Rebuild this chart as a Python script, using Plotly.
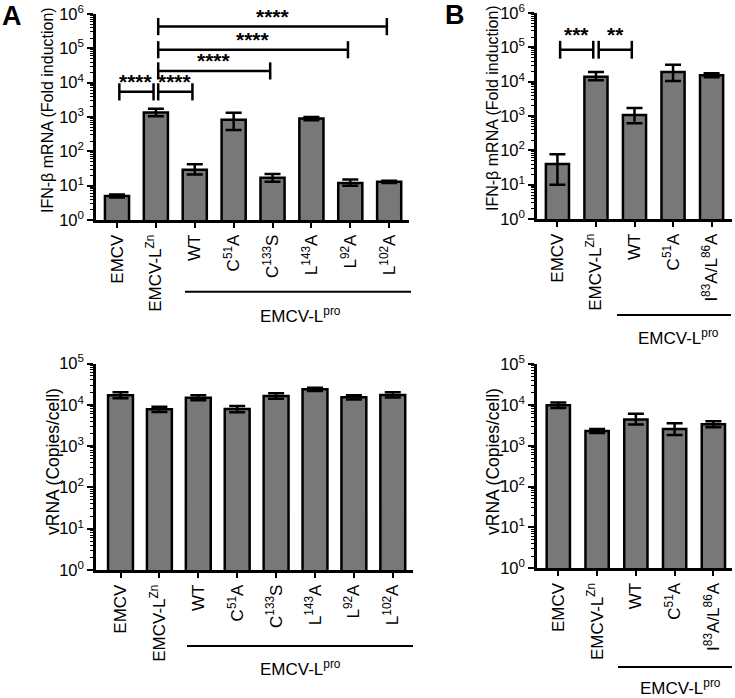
import math
import plotly.graph_objects as go

# ---------------- data ----------------
cats_A = ["EMCV", "EMCV-L<sup>Zn</sup>", "WT", "C<sup>51</sup>A", "C<sup>133</sup>S",
          "L<sup>143</sup>A", "L<sup>92</sup>A", "L<sup>102</sup>A"]
cats_B = ["EMCV", "EMCV-L<sup>Zn</sup>", "WT", "C<sup>51</sup>A", "I<sup>83</sup>A/L<sup>86</sup>A"]

ifn_A = [5.0, 1350, 29, 830, 17, 900, 12, 13]
ifn_A_hi = [5.5, 1750, 42, 1320, 22, 1000, 15, 14]
ifn_A_lo = [4.5, 1050, 21, 420, 13, 800, 10, 12]

ifn_B = [40, 14000, 1070, 19000, 15500]
ifn_B_hi = [77, 19000, 1700, 31000, 17500]
ifn_B_lo = [10, 11000, 620, 10500, 13500]

vrna_A = [17000, 7800, 14800, 7900, 16300, 23700, 15200, 17300]
vrna_A_hi = [20000, 9000, 17000, 9400, 19000, 26000, 17000, 20000]
vrna_A_lo = [14500, 6700, 12800, 6600, 14000, 21500, 13500, 15000]

vrna_B = [9800, 2280, 4370, 2550, 3370]
vrna_B_hi = [11500, 2550, 6100, 3560, 3980]
vrna_B_lo = [8400, 2050, 3300, 1820, 2850]

# significance brackets: from category index, to category index, height, label
sig_A_from = [0, 1, 1, 1, 1]
sig_A_to = [1, 2, 4, 6, 7]
sig_A_height = [5400, 5400, 22000, 91000, 430000]
sig_A_label = ["****", "****", "****", "****", "****"]

sig_B_from = [0, 1]
sig_B_to = [1, 2]
sig_B_height = [85000, 85000]
sig_B_label = ["***", "**"]

ifn_title = "IFN-β mRNA (Fold induction)"
vrna_title = "vRNA (Copies/cell)"
group_label = "EMCV-L<sup>pro</sup>"

# ---------------- style ----------------
W, H = 735, 698
FONT = "Arial, 'Liberation Sans', sans-serif"
BAR = "#787878"
LW = 2.5


def px(x):
    return x / W


def py(y):
    return 1 - y / H


fig = go.Figure()


def add_bars(suffix, cats, vals, hi, lo, width):
    fig.add_trace(go.Bar(
        x=cats, y=vals, xaxis="x" + suffix, yaxis="y" + suffix, width=width,
        marker=dict(color=BAR, line=dict(color="black", width=LW)),
        error_y=dict(type="data", symmetric=False,
                     array=[h - v for h, v in zip(hi, vals)],
                     arrayminus=[v - l for v, l in zip(vals, lo)],
                     color="black", thickness=2.5, width=8),
        showlegend=False, hoverinfo="skip"))


add_bars("", cats_A, ifn_A, ifn_A_hi, ifn_A_lo, 0.62)
add_bars("2", cats_B, ifn_B, ifn_B_hi, ifn_B_lo, 0.6)
add_bars("3", cats_A, vrna_A, vrna_A_hi, vrna_A_lo, 0.64)
add_bars("4", cats_B, vrna_B, vrna_B_hi, vrna_B_lo, 0.6)


def xaxis(domain, anchor, rng, cats):
    return dict(domain=domain, anchor=anchor, type="category", range=rng,
                categoryorder="array", categoryarray=cats, automargin=False,
                showline=True, linewidth=LW, linecolor="black", mirror=False,
                ticks="outside", ticklen=5, tickwidth=2, tickcolor="black",
                tickangle=-90, tickfont=dict(size=17, color="black", family=FONT),
                showgrid=False, zeroline=False, fixedrange=True)


def yaxis(domain, anchor, decades):
    return dict(domain=domain, anchor=anchor, type="log", range=[0, decades],
                automargin=False,
                tickmode="array", tickvals=[10 ** k for k in range(decades + 1)],
                ticktext=["10<sup>%d</sup>" % k for k in range(decades + 1)],
                showline=True, linewidth=LW, linecolor="black",
                ticks="outside", ticklen=6, tickwidth=2, tickcolor="black",
                tickfont=dict(size=16.5, color="black", family=FONT),
                minor=dict(ticks="outside", ticklen=3, tickwidth=1, tickcolor="black",
                           tickmode="array",
                           tickvals=[m * 10 ** k for k in range(decades) for m in range(2, 10)]),
                showgrid=False, zeroline=False, fixedrange=True)


fig.update_layout(
    width=W, height=H, margin=dict(l=0, r=0, t=0, b=0, autoexpand=False),
    paper_bgcolor="white", plot_bgcolor="white",
    font=dict(family=FONT, color="black", size=16),
    xaxis=xaxis([px(96), px(409)], "y", [-0.54, 7.51], cats_A),
    yaxis=yaxis([py(220), py(14)], "x", 6),
    xaxis2=xaxis([px(537), px(732)], "y2", [-0.53, 4.53], cats_B),
    yaxis2=yaxis([py(219), py(13)], "x2", 6),
    xaxis3=xaxis([px(96), px(413)], "y3", [-0.63, 7.52], cats_A),
    yaxis3=yaxis([py(570), py(363.5)], "x3", 5),
    xaxis4=xaxis([px(537), px(732)], "y4", [-0.55, 4.48], cats_B),
    yaxis4=yaxis([py(568.3), py(364)], "x4", 5),
)

shapes = []
annotations = []


def brackets(xref, yref, frm, to, heights, labels, gap, half, starshift):
    f = 10 ** half
    for a, b, h, lab in zip(frm, to, heights, labels):
        x0, x1 = a + gap, b - gap
        line = dict(color="black", width=2.5)
        shapes.append(dict(type="line", xref=xref, yref=yref, x0=x0, x1=x1, y0=h, y1=h, line=line))
        for xe in (x0, x1):
            shapes.append(dict(type="line", xref=xref, yref=yref, x0=xe, x1=xe,
                               y0=h / f, y1=h * f, line=line))
        annotations.append(dict(xref=xref, yref=yref, x=(x0 + x1) / 2, y=math.log10(h), text=lab,
                                showarrow=False, yanchor="bottom", yshift=starshift,
                                font=dict(size=21, color="black", family=FONT, weight="bold")))


brackets("x", "y", sig_A_from, sig_A_to, sig_A_height, sig_A_label, 0.06, 0.25, -3)
brackets("x2", "y2", sig_B_from, sig_B_to, sig_B_height, sig_B_label, 0.07, 0.26, 2)

# axis titles
for x, y, t, s in [(47, 110, ifn_title, 16), (492, 108, ifn_title, 16),
                   (53, 462, vrna_title, 17.5), (493, 462, vrna_title, 17.5)]:
    annotations.append(dict(xref="paper", yref="paper", x=px(x), y=py(y), text=t,
                            textangle=-90, showarrow=False, xanchor="center", yanchor="middle",
                            font=dict(size=s, color="black", family=FONT)))

# group lines + labels
for x0, x1, yl, xt, yt in [(185, 411, 291.7, 300, 315), (617, 731, 315, 678, 337),
                           (187, 413, 646, 300, 668), (618, 732, 667, 680, 687)]:
    shapes.append(dict(type="line", xref="paper", yref="paper", x0=px(x0), x1=px(x1),
                       y0=py(yl), y1=py(yl), line=dict(color="black", width=2)))
    annotations.append(dict(xref="paper", yref="paper", x=px(xt), y=py(yt), text=group_label,
                            showarrow=False, xanchor="center", yanchor="middle",
                            font=dict(size=17, color="black", family=FONT)))

# panel letters
for x, y, t in [(12, 16, "A"), (455, 15, "B")]:
    annotations.append(dict(xref="paper", yref="paper", x=px(x), y=py(y), text=t,
                            showarrow=False, xanchor="center", yanchor="middle",
                            font=dict(size=27, color="black", family=FONT, weight="bold")))

fig.update_layout(shapes=shapes, annotations=annotations)
fig.write_html("out.html", config={"displayModeBar": False},
               post_script="document.body.style.margin='0';document.body.style.padding='0';")
